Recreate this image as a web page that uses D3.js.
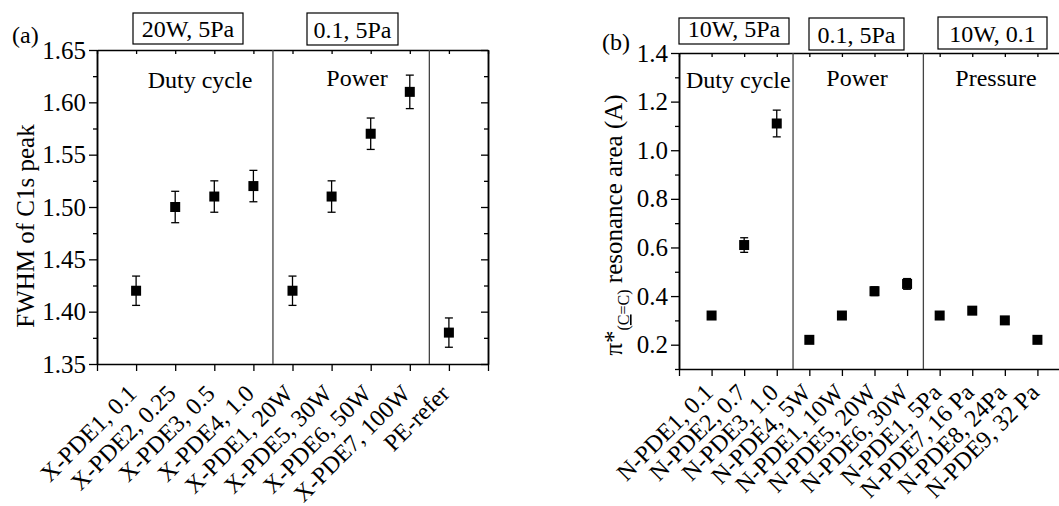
<!DOCTYPE html>
<html><head><meta charset="utf-8">
<script src="https://cdn.jsdelivr.net/npm/d3@7"></script>
</head>
<body style="margin:0;background:#fff">
<svg id="c" width="1059" height="506" style="display:block"></svg>
<script>
// ---------- Data ----------
const catsA = ["X-PDE1, 0.1","X-PDE2, 0.25","X-PDE3, 0.5","X-PDE4, 1.0","X-PDE1, 20W","X-PDE5, 30W","X-PDE6, 50W","X-PDE7, 100W","PE-refer"];
const valsA = [1.42,1.50,1.51,1.52,1.42,1.51,1.57,1.61,1.38];
const errA  = [0.014,0.015,0.015,0.015,0.014,0.015,0.015,0.016,0.014];
const yTicksA = [1.35,1.40,1.45,1.50,1.55,1.60,1.65];
const groupsA = [{label:"20W, 5Pa", title:"Duty cycle"},{label:"0.1, 5Pa", title:"Power"}];

const catsB = ["N-PDE1, 0.1","N-PDE2, 0.7","N-PDE3, 1.0","N-PDE4, 5W","N-PDE1, 10W","N-PDE5, 20W","N-PDE6, 30W","N-PDE1, 5Pa","N-PDE7, 16 Pa","N-PDE8, 24Pa","N-PDE9, 32 Pa"];
const valsB = [0.32,0.61,1.11,0.22,0.32,0.42,0.45,0.32,0.34,0.30,0.22];
const errB  = [0.008,0.03,0.055,0.008,0.008,0.018,0.022,0.008,0.008,0.008,0.008];
const yTicksB = [0.2,0.4,0.6,0.8,1.0,1.2,1.4];
const groupsB = [{label:"10W, 5Pa", title:"Duty cycle"},{label:"0.1, 5Pa", title:"Power"},{label:"10W, 0.1", title:"Pressure"}];

const FAM = '"Liberation Serif"';
const svg = d3.select("#c").style("font-family", FAM);
const FONT = 25;
const XFONT = 24;

function T(sel){ return sel.style("font-family", FAM).attr("fill","#000"); }

function styleAxis(g){
  g.attr("font-size",FONT).attr("font-family",null).style("font-family", FAM);
  g.selectAll(".domain").attr("stroke","#000").attr("stroke-width",1.5);
  g.selectAll(".tick line").attr("stroke","#000").attr("stroke-width",1.3);
  g.selectAll(".tick text").attr("fill","#000").style("font-family", FAM);
}

function panel(opt){
  const {cats, vals, errs, x, y, yTicks, yMinor, fmt, dividers, xEnd} = opt;
  const g = svg.append("g");
  const [y0, y1] = y.range();
  const [xL] = x.range();
  const xR = x(xEnd);
  g.append("g").attr("transform",`translate(${xL},0)`)
    .call(d3.axisLeft(y).tickValues(yMinor).tickSize(4).tickSizeOuter(0).tickFormat(""))
    .call(styleAxis);
  g.append("g").attr("transform",`translate(${xL},0)`)
    .call(d3.axisLeft(y).tickValues(yTicks).tickSize(8).tickSizeOuter(0).tickPadding(3).tickFormat(d3.format(fmt)))
    .call(styleAxis);
  g.append("g").attr("transform",`translate(${xR},0)`)
    .call(d3.axisLeft(y).tickValues(yTicks).tickSize(7).tickSizeOuter(0).tickFormat(""))
    .call(styleAxis);
  g.append("g").attr("transform",`translate(${xR},0)`)
    .call(d3.axisLeft(y).tickValues(yMinor).tickSize(4).tickSizeOuter(0).tickFormat(""))
    .call(styleAxis);
  g.append("g").attr("transform",`translate(0,${y1})`)
    .call(d3.axisBottom(x).tickValues(d3.range(0, xEnd+1)).tickSize(4).tickSizeOuter(0).tickFormat(""))
    .call(styleAxis);
  g.append("g").attr("transform",`translate(0,${y0})`)
    .call(d3.axisBottom(x).tickValues(d3.range(0, xEnd+1)).tickSize(7).tickSizeOuter(0).tickFormat(""))
    .call(styleAxis);
  g.append("g").selectAll("text").data(cats).join("text")
    .attr("transform",(d,i)=>`translate(${x(i+1)+opt.lx},${y0+opt.ly}) rotate(-45)`)
    .attr("text-anchor","end").attr("font-size",XFONT).text(d=>d).call(T);
  g.selectAll("line.div").data(dividers).join("line").attr("class","div")
    .attr("x1",d=>x(d)).attr("x2",d=>x(d)).attr("y1",y1).attr("y2",y0)
    .attr("stroke","#444").attr("stroke-width",1.3);
  const eb = g.append("g").attr("stroke","#000").attr("stroke-width",1.3);
  vals.forEach((v,i)=>{
    const cx = x(i+1), e = errs[i];
    eb.append("line").attr("x1",cx).attr("x2",cx).attr("y1",y(v-e)).attr("y2",y(v+e));
    eb.append("line").attr("x1",cx-4).attr("x2",cx+4).attr("y1",y(v-e)).attr("y2",y(v-e));
    eb.append("line").attr("x1",cx-4).attr("x2",cx+4).attr("y1",y(v+e)).attr("y2",y(v+e));
  });
  g.append("g").selectAll("rect").data(vals).join("rect")
    .attr("x",(d,i)=>x(i+1)-5).attr("y",d=>y(d)-5).attr("width",10).attr("height",10).attr("fill","#000");
  return g;
}

// ---------- Panel (a) ----------
const xA = d3.scaleLinear().domain([0,10]).range([97,488]);
const yA = d3.scaleLinear().domain([1.35,1.65]).range([364,50]);
panel({cats:catsA, vals:valsA, errs:errA, x:xA, y:yA, yTicks:yTicksA,
  yMinor:d3.range(0,6).map(i=>1.375+i*0.05), fmt:".2f", dividers:[4.5,8.5], xEnd:10, lx:2, ly:31});

// ---------- Panel (b) ----------
const xB = d3.scaleLinear().domain([0,12]).range([679,1070]);
const yB = d3.scaleLinear().domain([0.1,1.4]).range([369,53]);
panel({cats:catsB, vals:valsB, errs:errB, x:xB, y:yB, yTicks:yTicksB,
  yMinor:[0.1,0.3,0.5,0.7,0.9,1.1,1.3], fmt:".1f", dividers:[3.5,7.5], xEnd:12, lx:3, ly:25});

// ---------- annotations ----------
function box(x0,y0,x1,y1,label){
  svg.append("rect").attr("x",x0).attr("y",y0).attr("width",x1-x0).attr("height",y1-y0)
    .attr("fill","#fff").attr("stroke","#000").attr("stroke-width",1.2);
  svg.append("text").attr("x",(x0+x1)/2).attr("y",y1-7).attr("text-anchor","middle")
    .attr("font-size",24).text(label).call(T);
}
box(133,13,243,44,groupsA[0].label);
box(307,13,398,45,groupsA[1].label);
box(679,18,789,44,groupsB[0].label);
box(809,18,904,50,groupsB[1].label);
box(938,17,1047,49,groupsB[2].label);

svg.append("text").attr("x",12).attr("y",43).attr("font-size",24).text("(a)").call(T);
svg.append("text").attr("x",602).attr("y",50).attr("font-size",24).text("(b)").call(T);

svg.append("text").attr("x",200).attr("y",88).attr("text-anchor","middle").attr("font-size",24).text(groupsA[0].title).call(T);
svg.append("text").attr("x",357).attr("y",86).attr("text-anchor","middle").attr("font-size",24).text(groupsA[1].title).call(T);
svg.append("text").attr("x",686).attr("y",88).attr("font-size",24).text(groupsB[0].title).call(T);
svg.append("text").attr("x",857).attr("y",86).attr("text-anchor","middle").attr("font-size",24).text(groupsB[1].title).call(T);
svg.append("text").attr("x",996).attr("y",86).attr("text-anchor","middle").attr("font-size",24).text(groupsB[2].title).call(T);

svg.append("text").attr("transform","translate(34,226) rotate(-90)").attr("text-anchor","middle")
  .attr("font-size",25).text("FWHM of C1s peak").call(T);
const yl = svg.append("text").attr("transform","translate(622,225) rotate(-90)").attr("text-anchor","middle").attr("font-size",25).call(T);
yl.append("tspan").text("π*");
yl.append("tspan").attr("font-size",16).attr("dy",7).text("(");
yl.append("tspan").attr("font-size",16).attr("text-decoration","underline").text("C");
yl.append("tspan").attr("font-size",16).text("=C)");
yl.append("tspan").attr("dy",-7).text(" resonance area (A)");
</script>
</body></html>
